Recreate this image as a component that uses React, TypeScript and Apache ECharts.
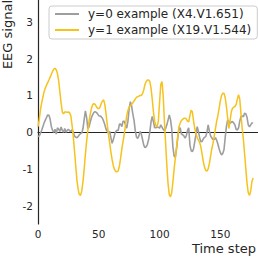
import React, { useEffect, useRef } from "react";
import * as echarts from "echarts";

const seriesNames = ["y=0 example (X4.V1.651)", "y=1 example (X19.V1.544)"];

const class0Values = [
  -0.12, -0.1, -0.03, 0.05, 0.15, 0.25, 0.33, 0.4, 0.47, 0.46,
  0.35, 0.15, 0.05, 0.0, 0.08, -0.05, 0.12, 0.08, 0.02, 0.14,
  0.05, 0.0, 0.1, 0.0, 0.05, 0.08, 0.04, 0.02, 0.07, 0.0,
  -0.1, -0.14, -0.15, -0.12, -0.07, -0.04, -0.02, 0.1, 0.35, 0.58,
  0.4, 0.1, 0.15, 0.28, 0.4, 0.48, 0.54, 0.56, 0.54, 0.5,
  0.45, 0.44, 0.42, 0.38, 0.3, 0.2, 0.08, 0.02, -0.02, 0.02,
  -0.15, -0.3, -0.2, -0.07, 0.02, 0.05, 0.05, 0.22, 0.22, 0.15,
  0.3, 0.3, 0.2, 0.11, 0.3, 0.65, 0.83, 0.72, 0.5, 0.33,
  0.05, -0.13, -0.17, -0.1, 0.02, -0.05, -0.2, -0.35, -0.42, -0.4,
  -0.33, -0.2, 0.0, 0.28, 0.43, 0.28, 0.12, 0.12, 0.15, 0.13,
  0.11, 0.2, 0.14, 0.08, 0.04, 0.1, 0.2, 0.33, 0.47, 0.35,
  0.1, -0.4, -0.65, -0.68, -0.45, -0.15, 0.1, 0.12, -0.05, -0.07,
  -0.1, -0.16, -0.1, 0.05, 0.12, -0.35, -0.5, -0.53, -0.45, -0.25,
  -0.05, 0.15, 0.02, -0.15, -0.26, -0.25, -0.18, -0.14, -0.12, 0.0,
  0.2, 0.02, -0.1, -0.16, -0.2, -0.2, -0.15, -0.22, -0.32, -0.45,
  -0.55, -0.62, -0.58, -0.48, -0.15, 0.15, 0.33, 0.3, 0.24, 0.27,
  0.29, 0.25, 0.2, 0.08, 0.06, 0.12, 0.3, 0.43, 0.44, 0.42,
  0.52, 0.5, 0.4, 0.2, 0.15, 0.2, 0.25, 0.25,
];

const class1Values = [
  0.15, 0.35, 0.6, 0.8, 0.95, 1.1, 1.2, 1.28, 1.35, 1.42,
  1.5, 1.58, 1.66, 1.72, 1.74, 1.7, 1.6, 1.4, 1.1, 0.8,
  0.55, 0.5, 0.55, 0.55, 0.54, 0.55, 0.53, 0.45, 0.2, -0.1,
  -0.5, -0.9, -1.3, -1.55, -1.7, -1.72, -1.6, -1.35, -1.0, -0.6,
  -0.25, 0.05, 0.3, 0.5, 0.65, 0.75, 0.78, 0.76, 0.7, 0.65,
  0.64, 0.68, 0.78, 0.85, 0.88, 0.75, 0.5, 0.2, -0.05, -0.3,
  -0.55, -0.75, -0.92, -1.02, -1.07, -1.08, -1.05, -0.92, -0.7, -0.45,
  -0.25, -0.05, 0.2, 0.45, 0.6, 0.68, 0.72, 0.75, 0.8, 0.85,
  0.9, 0.95, 0.97, 0.98, 1.0, 1.0, 1.05, 1.15, 1.3, 1.38,
  1.42, 1.42, 1.38, 1.2, 0.9, 0.55, 0.3, 0.18, 0.15, 0.3,
  0.8, 1.3, 1.38, 1.0, 0.3, -0.3, -0.9, -1.4, -1.7, -1.76,
  -1.65, -1.35, -1.0, -0.7, -0.4, -0.1, 0.15, 0.25, 0.32, 0.35,
  0.38, 0.38, 0.36, 0.3, 0.28, 0.45, 0.6, 0.55, 0.3, 0.1,
  -0.05, -0.15, -0.22, -0.28, -0.4, -0.6, -0.8, -0.95, -1.04, -1.06,
  -1.0, -0.85, -0.65, -0.45, -0.3, -0.1, 0.1, 0.3, 0.45, 0.65,
  0.85, 1.0, 1.06, 1.06, 0.95, 0.7, 0.4, 0.1, 0.3, 0.55,
  0.65, 0.68, 0.7, 0.75, 0.9, 1.02, 0.9, 0.5, 0.1, -0.2,
  -0.6, -1.0, -1.4, -1.65, -1.72, -1.6, -1.35, -1.25,
];

const xTickValues = [0, 50, 100, 150];
const yTickValues = [-2, -1, 0, 1, 2, 3];
const xAxisTitle = "Time step";
const yAxisTitle = "EEG signal";

const FONT = "DejaVu Sans";
const TEXT = "#262626";
const GRAY = "#9e9e9e";
const GOLD = "#f6c21c";

export default function App() {
  const ref = useRef<HTMLDivElement>(null);
  useEffect(() => {
    if (!ref.current) return;
    const chart = echarts.init(ref.current, undefined, { renderer: "svg" });
    const toPairs = (arr: number[]) => arr.map((v, i) => [i, v]);
    chart.setOption({
      animation: false,
      backgroundColor: "#ffffff",
      textStyle: { fontFamily: FONT },
      grid: { left: 38, right: 0, top: 0, bottom: 33, containLabel: false, outerBoundsMode: "none" },
      xAxis: {
        type: "value",
        min: 0,
        max: 181,
        axisLine: { show: true, lineStyle: { color: TEXT, width: 1.2 } },
        axisTick: { show: false },
        splitLine: { show: false },
        axisLabel: {
          customValues: xTickValues,
          color: TEXT,
          fontSize: 10.5,
          fontFamily: FONT,
          margin: 4,
        },
      },
      yAxis: {
        type: "value",
        min: -2.5,
        max: 3.6,
        axisLine: { show: true, lineStyle: { color: TEXT, width: 1.2 } },
        axisTick: { show: false },
        splitLine: { show: false },
        axisLabel: {
          customValues: yTickValues,
          color: TEXT,
          fontSize: 10.5,
          fontFamily: FONT,
          margin: 5,
        },
      },
      legend: {
        orient: "vertical",
        left: 49,
        top: 6,
        itemWidth: 24,
        itemHeight: 14,
        itemGap: 4,
        padding: [2, 6, 3, 5],
        backgroundColor: "rgba(255,255,255,0.85)",
        borderColor: "#cccccc",
        borderWidth: 1,
        borderRadius: 3,
        itemStyle: { opacity: 0, borderWidth: 0 },
        textStyle: { fontFamily: FONT, fontSize: 12, color: TEXT, padding: [0, 0, 0, 4] },
        data: seriesNames,
      },
      graphic: [
        {
          type: "text",
          x: 7,
          y: 0,
          rotation: Math.PI / 2,
          style: {
            text: yAxisTitle,
            fontFamily: FONT,
            fontSize: 13,
            fill: TEXT,
            align: "right",
            verticalAlign: "middle",
          },
        },
        {
          type: "text",
          x: 256,
          y: 248,
          style: {
            text: xAxisTitle,
            fontFamily: FONT,
            fontSize: 13,
            fill: TEXT,
            align: "right",
            verticalAlign: "middle",
          },
        },
      ],
      series: [
        {
          name: seriesNames[0],
          type: "line",
          symbol: "none",
          data: toPairs(class0Values),
          lineStyle: { color: GRAY, width: 1.6 },
          itemStyle: { color: GRAY },
          z: 2,
        },
        {
          name: seriesNames[1],
          type: "line",
          symbol: "none",
          data: toPairs(class1Values),
          lineStyle: { color: GOLD, width: 1.5 },
          itemStyle: { color: GOLD },
          z: 3,
        },
      ],
    });
    return () => chart.dispose();
  }, []);
  return (
    <div
      ref={ref}
      style={{ position: "fixed", left: 0, top: 0, width: 258, height: 257, background: "#fff" }}
    />
  );
}
